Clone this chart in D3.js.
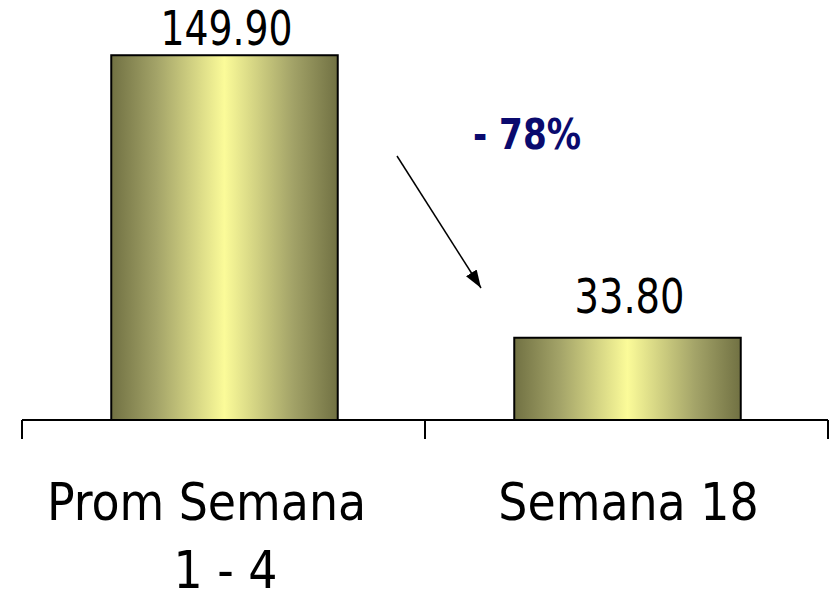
<!DOCTYPE html>
<html>
<head>
<meta charset="utf-8">
<script src="https://cdn.jsdelivr.net/npm/d3@7/dist/d3.min.js"></script>
<style>
  html, body { margin: 0; padding: 0; background: #ffffff; }
  svg { display: block; }
</style>
</head>
<body>
<script>
// ---- data ----
const categories = [["Prom Semana", "1 - 4"], ["Semana 18"]];
const values = [149.90, 33.80];
const valueLabels = ["149.90", "33.80"];
const changeLabel = "- 78%";

const W = 831, H = 593;
const svg = d3.select("body").append("svg").attr("width", W).attr("height", H);

const keys = categories.map((c, i) => "c" + i);
const x = d3.scaleBand().domain(keys).range([22, 828]).padding(0);
const y = d3.scaleLinear().domain([0, 150]).range([420, 55]);
const barW = x.bandwidth() * 0.562;

// gradient
const defs = svg.append("defs");
const grad = defs.append("linearGradient").attr("id", "barGrad")
  .attr("x1", "0%").attr("x2", "100%").attr("y1", "0%").attr("y2", "0%");
grad.append("stop").attr("offset", "0%").attr("stop-color", "#717143");
grad.append("stop").attr("offset", "20%").attr("stop-color", "#a3a368");
grad.append("stop").attr("offset", "50%").attr("stop-color", "#fbfb99");
grad.append("stop").attr("offset", "80%").attr("stop-color", "#a3a368");
grad.append("stop").attr("offset", "100%").attr("stop-color", "#717143");

const arrowDefs = defs.append("marker").attr("id", "arrowHead")
  .attr("viewBox", "0 0 10 10").attr("refX", 10).attr("refY", 5)
  .attr("markerWidth", 18).attr("markerHeight", 18).attr("markerUnits", "userSpaceOnUse")
  .attr("orient", "auto");
arrowDefs.append("path").attr("d", "M0,1.5 L10,5 L0,8.5 Z").attr("fill", "#000");

// bars
svg.selectAll("rect.bar").data(values).enter().append("rect")
  .attr("class", "bar")
  .attr("x", (d, i) => x(keys[i]) + x.bandwidth() / 2 - barW / 2 + 1)
  .attr("y", d => y(d))
  .attr("width", barW)
  .attr("height", d => y(0) - y(d))
  .attr("fill", "url(#barGrad)")
  .attr("stroke", "#000").attr("stroke-width", 2);

// axis line and boundary ticks
const axisG = svg.append("g");
axisG.append("line").attr("x1", x.range()[0]).attr("x2", x.range()[1])
  .attr("y1", y(0)).attr("y2", y(0)).attr("stroke", "#000").attr("stroke-width", 2);
const tickXs = keys.map(k => x(k)).concat([x.range()[1]]);
axisG.selectAll("line.tick").data(tickXs).enter().append("line")
  .attr("class", "tick")
  .attr("x1", d => d).attr("x2", d => d)
  .attr("y1", y(0)).attr("y2", y(0) + 19)
  .attr("stroke", "#000").attr("stroke-width", 2);

// value labels
const font = "'DejaVu Sans Condensed', 'DejaVu Sans', sans-serif";
svg.selectAll("text.val").data(values).enter().append("text")
  .attr("class", "val")
  .attr("x", (d, i) => x(keys[i]) + x.bandwidth() / 2 + 3)
  .attr("y", d => Math.max(y(d) - 25, 45))
  .attr("text-anchor", "middle")
  .attr("font-family", font).attr("font-size", 48)
  .attr("textLength", (d, i) => valueLabels[i].length * 22)
  .attr("lengthAdjust", "spacingAndGlyphs")
  .attr("fill", "#000")
  .text((d, i) => valueLabels[i]);

// category labels
categories.forEach((lines, i) => {
  const cx = x(keys[i]) + x.bandwidth() / 2;
  lines.forEach((ln, j) => {
    svg.append("text")
      .attr("x", cx + (lines.length > 1 && j === 0 ? -17 : 2))
      .attr("y", 520 + j * 68)
      .attr("text-anchor", "middle")
      .attr("font-family", font).attr("font-size", 51)
      .attr("fill", "#000")
      .text(ln);
  });
});

// change annotation
svg.append("text")
  .attr("x", 527).attr("y", 149)
  .attr("text-anchor", "middle")
  .attr("font-family", font).attr("font-weight", "bold").attr("font-size", 43)
  .attr("textLength", 108).attr("lengthAdjust", "spacingAndGlyphs")
  .attr("fill", "#0a0a6e")
  .text(changeLabel);

svg.append("line")
  .attr("x1", 397).attr("y1", 156).attr("x2", 481).attr("y2", 288)
  .attr("stroke", "#000").attr("stroke-width", 1.5)
  .attr("marker-end", "url(#arrowHead)");
</script>
</body>
</html>
